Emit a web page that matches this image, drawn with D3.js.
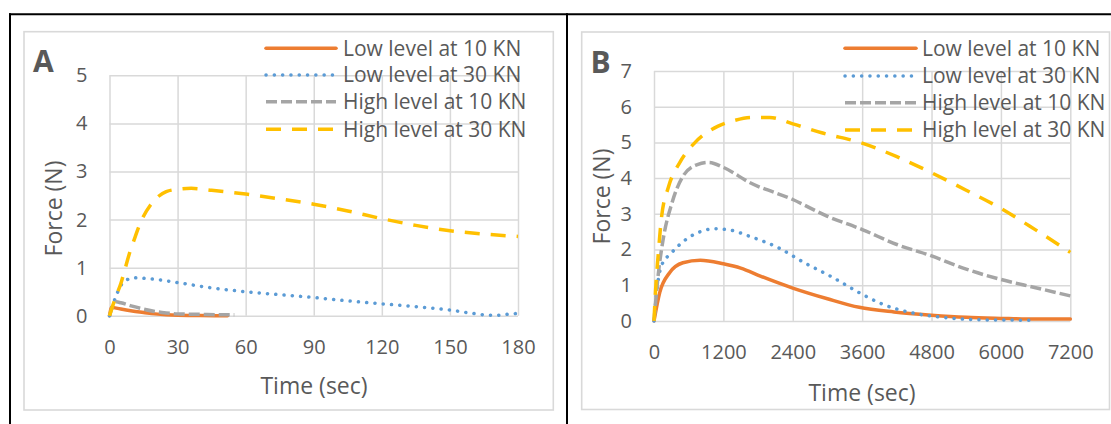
<!DOCTYPE html>
<html>
<head>
<meta charset="utf-8">
<script src="https://cdn.jsdelivr.net/npm/d3@7"></script>
<style>
  html, body { margin: 0; padding: 0; background: #fff; }
  svg { display: block; }
  text { font-family: "Open Sans", "Noto Sans", sans-serif; fill: #595959; }
</style>
</head>
<body>
<svg id="chart" width="1111" height="424"></svg>
<script>
// ---------- DATA ----------
const seriesNames = ["Low level at 10 KN", "Low level at 30 KN", "High level at 10 KN", "High level at 30 KN"];
const panelLabels = ["A", "B"];
const xTitle = "Time (sec)";
const yTitle = "Force (N)";

const xTicksA = [0, 30, 60, 90, 120, 150, 180];
const yTicksA = [0, 1, 2, 3, 4, 5];
const xTicksB = [0, 1200, 2400, 3600, 4800, 6000, 7200];
const yTicksB = [0, 1, 2, 3, 4, 5, 6, 7];

// Panel A
const aLow10T  = [0, 1, 2, 5, 10, 15, 20, 25, 30, 40, 52];
const aLow10F  = [0, 0.18, 0.17, 0.14, 0.10, 0.07, 0.04, 0.02, 0.01, 0.005, 0.0];
const aLow30T  = [0, 1, 2, 3, 4, 5, 7, 9, 12, 15, 20, 30, 45, 60, 75, 90, 105, 120, 135, 150, 160, 165, 170, 175, 180];
const aLow30F  = [0, 0.15, 0.30, 0.42, 0.54, 0.63, 0.73, 0.77, 0.79, 0.78, 0.76, 0.69, 0.58, 0.50, 0.44, 0.38, 0.31, 0.25, 0.19, 0.12, 0.05, 0.02, 0.01, 0.03, 0.05];
const aHigh10T = [0, 1, 2, 3, 5, 10, 15, 20, 25, 30, 40, 50, 55];
const aHigh10F = [0, 0.15, 0.27, 0.29, 0.27, 0.20, 0.14, 0.09, 0.06, 0.04, 0.03, 0.02, 0.02];
const aHigh30T = [0, 1, 3, 5, 7, 9, 11, 13, 15, 18, 21, 25, 30, 36, 45, 60, 75, 90, 105, 120, 135, 150, 165, 180];
const aHigh30F = [0, 0.15, 0.42, 0.67, 1.00, 1.33, 1.60, 1.86, 2.07, 2.30, 2.46, 2.58, 2.63, 2.65, 2.61, 2.53, 2.43, 2.32, 2.18, 2.02, 1.88, 1.77, 1.70, 1.65];

// Panel B
const bLow10T  = [0, 100, 270, 500, 800, 1200, 1500, 1850, 2400, 3000, 3550, 4150, 4800, 5400, 6000, 6600, 7200];
const bLow10F  = [0, 0.80, 1.35, 1.63, 1.70, 1.60, 1.48, 1.25, 0.92, 0.62, 0.38, 0.25, 0.16, 0.10, 0.07, 0.05, 0.05];
const bLow30T  = [0, 60, 130, 300, 550, 800, 1050, 1300, 1650, 2150, 2600, 3100, 3550, 3950, 4450, 5050, 5650, 6500];
const bLow30F  = [0, 1.00, 1.55, 1.90, 2.28, 2.50, 2.58, 2.55, 2.37, 2.05, 1.63, 1.21, 0.79, 0.47, 0.23, 0.09, 0.03, 0.02];
const bHigh10T = [0, 70, 160, 310, 500, 750, 950, 1200, 1650, 2400, 3000, 3600, 4200, 4800, 5400, 6000, 6600, 7200];
const bHigh10F = [0, 1.25, 2.30, 3.30, 4.05, 4.38, 4.44, 4.30, 3.88, 3.40, 2.93, 2.56, 2.14, 1.82, 1.45, 1.16, 0.93, 0.70];
const bHigh30T = [0, 25, 75, 130, 250, 450, 700, 1100, 1400, 1700, 2000, 2400, 2900, 3600, 4200, 4800, 5400, 6000, 6600, 7200];
const bHigh30F = [0, 0.80, 1.90, 2.90, 3.75, 4.45, 4.98, 5.45, 5.62, 5.70, 5.70, 5.52, 5.27, 4.98, 4.60, 4.15, 3.66, 3.15, 2.55, 1.92];

// ---------- STYLES ----------
const seriesStyles = [
  { color: "#ED7D31", dash: null,      cap: "round" },
  { color: "#5B9BD5", dash: "0.1,8.2", cap: "round" },
  { color: "#A5A5A5", dash: "11,4",    cap: "butt" },
  { color: "#FFC000", dash: "15,11",   cap: "butt" }
];
const zip = (t, f) => t.map((v, i) => ({ t: v, f: f[i] }));

const panels = [
  {
    label: panelLabels[0],
    series: [zip(aLow10T, aLow10F), zip(aLow30T, aLow30F), zip(aHigh10T, aHigh10F), zip(aHigh30T, aHigh30F)],
    xTicks: xTicksA, yTicks: yTicksA,
    box: [24, 31.7, 553.3, 410],
    xr: [109.5, 518], yr: [315.8, 75.3],
    labelPos: [33, 72.3],
    legend: { x0: 266, x1: 336, tx: 343, rows: [48.3, 75, 101.7, 129.3] },
    xTitlePos: [314, 386], yTitlePos: [54, 208.5]
  },
  {
    label: panelLabels[1],
    series: [zip(bLow10T, bLow10F), zip(bLow30T, bLow30F), zip(bHigh10T, bHigh10F), zip(bHigh30T, bHigh30F)],
    xTicks: xTicksB, yTicks: yTicksB,
    box: [581.7, 32, 1109.5, 409.5],
    xr: [654, 1070.3], yr: [320.9, 71],
    labelPos: [590.5, 73.3],
    legend: { x0: 845, x1: 916, tx: 922, rows: [48.3, 76, 102.7, 130] },
    xTitlePos: [862, 393], yTitlePos: [602, 196.5]
  }
];

const svg = d3.select("#chart");
svg.append("rect").attr("width", 1111).attr("height", 424).attr("fill", "#fff");

panels.forEach(p => {
  const g = svg.append("g");
  // chart area box
  g.append("rect")
    .attr("x", p.box[0]).attr("y", p.box[1])
    .attr("width", p.box[2] - p.box[0]).attr("height", p.box[3] - p.box[1])
    .attr("fill", "#fff").attr("stroke", "#d9d9d9").attr("stroke-width", 1.6);

  const x = d3.scaleLinear().domain([p.xTicks[0], p.xTicks[p.xTicks.length - 1]]).range(p.xr);
  const y = d3.scaleLinear().domain([p.yTicks[0], p.yTicks[p.yTicks.length - 1]]).range(p.yr);

  // gridlines via axes
  const gx = g.append("g").attr("transform", `translate(0,${p.yr[0]})`)
    .call(d3.axisBottom(x).tickValues(p.xTicks).tickSize(-(p.yr[0] - p.yr[1])).tickFormat(d3.format("d")).tickPadding(24));
  const gy = g.append("g").attr("transform", `translate(${p.xr[0]},0)`)
    .call(d3.axisLeft(y).tickValues(p.yTicks).tickSize(-(p.xr[1] - p.xr[0])).tickFormat(d3.format("d")).tickPadding(22));
  [gx, gy].forEach(a => {
    a.select(".domain").remove();
    a.selectAll(".tick line").attr("stroke", "#d9d9d9").attr("stroke-width", 1.5);
    a.selectAll(".tick text").attr("font-size", 20).attr("fill", "#595959")
      .style("font-family", '"Open Sans", sans-serif');
  });
  gx.selectAll(".tick text").attr("dy", "0.71em");

  // lines
  const line = d3.line().x(d => x(d.t)).y(d => y(d.f)).curve(d3.curveMonotoneX);
  p.series.forEach((s, i) => {
    const st = seriesStyles[i];
    g.append("path").datum(s).attr("d", line)
      .attr("fill", "none").attr("stroke", st.color).attr("stroke-width", 3.5)
      .attr("stroke-linecap", st.cap).attr("stroke-linejoin", "round")
      .attr("stroke-dasharray", st.dash);
  });

  // legend
  seriesNames.forEach((name, i) => {
    const st = seriesStyles[i];
    const yy = p.legend.rows[i];
    g.append("line").attr("x1", p.legend.x0).attr("x2", p.legend.x1)
      .attr("y1", yy).attr("y2", yy)
      .attr("stroke", st.color).attr("stroke-width", 3.5)
      .attr("stroke-linecap", st.cap).attr("stroke-dasharray", st.dash);
    g.append("text").attr("x", p.legend.tx).attr("y", yy).attr("dy", "0.35em")
      .attr("font-size", 21).text(name);
  });

  // panel letter
  g.append("text").attr("x", p.labelPos[0]).attr("y", p.labelPos[1])
    .attr("font-size", 30).attr("font-weight", "bold").attr("fill", "#595959").text(p.label);

  // axis titles
  g.append("text").attr("x", p.xTitlePos[0]).attr("y", p.xTitlePos[1]).attr("dy", "0.35em")
    .attr("text-anchor", "middle").attr("font-size", 23).text(xTitle);
  g.append("text").attr("transform", `translate(${p.yTitlePos[0]},${p.yTitlePos[1]}) rotate(-90)`)
    .attr("dy", "0.35em").attr("text-anchor", "middle").attr("font-size", 23).text(yTitle);
});

// outer table borders
svg.append("line").attr("x1", 9).attr("x2", 1111).attr("y1", 14.3).attr("y2", 14.3).attr("stroke", "#000").attr("stroke-width", 2);
svg.append("line").attr("x1", 10).attr("x2", 10).attr("y1", 13.3).attr("y2", 424).attr("stroke", "#000").attr("stroke-width", 2);
svg.append("line").attr("x1", 567).attr("x2", 567).attr("y1", 13.3).attr("y2", 424).attr("stroke", "#000").attr("stroke-width", 2);
</script>
</body>
</html>
